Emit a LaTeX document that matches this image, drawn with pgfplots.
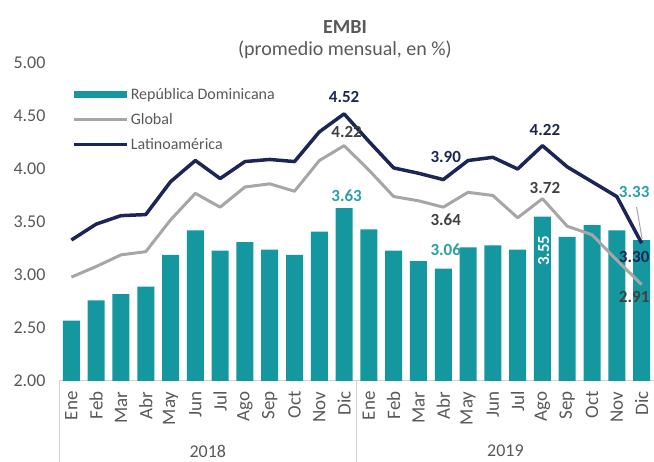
\documentclass[border=0pt]{standalone}
\usepackage{fontspec}
\setmainfont{Carlito}
\usepackage{pgfplots}
\pgfplotsset{compat=1.18}
\definecolor{rd}{HTML}{14979E}
\definecolor{rdlab}{HTML}{2A9FA5}
\definecolor{lat}{HTML}{1B2656}
\definecolor{glob}{HTML}{A6A6A6}
\definecolor{txt}{HTML}{595959}
\definecolor{glab}{HTML}{404040}
\begin{document}
\begin{tikzpicture}
\useasboundingbox (-59pt,-81pt) rectangle (595pt,381pt);
\begin{axis}[
  at={(0,0)}, anchor=south west,
  scale only axis, width=595pt, height=318pt,
  xmin=-0.5, xmax=23.5, ymin=2, ymax=5,
  ytick={2,2.5,3,3.5,4,4.5,5},
  yticklabel style={/pgf/number format/fixed,/pgf/number format/precision=2,/pgf/number format/fixed zerofill, font=\fontsize{18}{18}\selectfont, text=txt, xshift=-10pt},
  /pgf/number format/assume math mode=true,
  xtick={0,...,23},
  xticklabels={Ene,Feb,Mar,Abr,May,Jun,Jul,Ago,Sep,Oct,Nov,Dic,Ene,Feb,Mar,Abr,May,Jun,Jul,Ago,Sep,Oct,Nov,Dic},
  xticklabel style={rotate=90, anchor=east, font=\fontsize{19}{19}\selectfont, text=txt, xshift=-7pt},
  axis lines*=left,
  x axis line style={draw=gray!35, line width=1pt},
  y axis line style={draw=none},
  major tick length=0pt,
  clip=false,
  legend style={draw=none, fill=none, at={(0.022,0.928)}, anchor=north west, font=\fontsize{16}{16}\selectfont, text=txt, row sep=8.5pt, inner sep=0pt},
  legend cell align=left,
]
\addplot[ybar, bar width=17pt, fill=rd, draw=none,
  legend image code/.code={\fill[rd] (0pt,-3.5pt) rectangle (53pt,3.5pt);}]
  coordinates {(0,2.57) (1,2.76) (2,2.82) (3,2.89) (4,3.19) (5,3.42) (6,3.23) (7,3.31) (8,3.24) (9,3.19) (10,3.41) (11,3.63)
  (12,3.43) (13,3.23) (14,3.13) (15,3.06) (16,3.26) (17,3.28) (18,3.24) (19,3.55) (20,3.36) (21,3.47) (22,3.42) (23,3.33)};
\addlegendentry{República Dominicana}
\addplot[glob, line width=3pt, line join=round,
  legend image code/.code={\draw[glob,line width=3pt] (0pt,0pt) -- (53pt,0pt);}]
  coordinates {(0,2.98) (1,3.08) (2,3.19) (3,3.22) (4,3.52) (5,3.77) (6,3.64) (7,3.83) (8,3.86) (9,3.79) (10,4.08) (11,4.22)
  (12,3.99) (13,3.74) (14,3.70) (15,3.64) (16,3.78) (17,3.75) (18,3.54) (19,3.72) (20,3.46) (21,3.38) (22,3.14) (23,2.91)};
\addlegendentry{Global}
\addplot[lat, line width=3.5pt, line join=round,
  legend image code/.code={\draw[lat,line width=3.5pt] (0pt,0pt) -- (53pt,0pt);}]
  coordinates {(0,3.33) (1,3.48) (2,3.56) (3,3.57) (4,3.88) (5,4.08) (6,3.91) (7,4.07) (8,4.09) (9,4.07) (10,4.35) (11,4.52)
  (12,4.26) (13,4.01) (14,3.96) (15,3.90) (16,4.08) (17,4.11) (18,4.00) (19,4.22) (20,4.02) (21,3.88) (22,3.74) (23,3.30)};
\addlegendentry{Latinoamérica}
\draw[glob, line width=1pt] (axis cs:22.8,3.64) -- (axis cs:23.02,3.34);
\begin{scope}[every node/.style={font=\bfseries\fontsize{17}{17}\selectfont}]
\node[text=lat] at (axis cs:11,4.68) {4.52};
\node[text=glab] at (axis cs:11.1,4.35) {4.22};
\node[text=rdlab] at (axis cs:11.1,3.75) {3.63};
\node[text=lat] at (axis cs:15.1,4.11) {3.90};
\node[text=glab] at (axis cs:15.1,3.52) {3.64};
\node[text=rdlab] at (axis cs:15.1,3.24) {3.06};
\node[text=lat] at (axis cs:19.1,4.37) {4.22};
\node[text=glab] at (axis cs:19.1,3.82) {3.72};
\node[text=white, rotate=90] at (axis cs:19.05,3.23) {3.55};
\node[text=rdlab] at (axis cs:22.7,3.78) {3.33};
\node[text=lat] at (axis cs:22.7,3.17) {3.30};
\node[text=glab] at (axis cs:22.7,2.79) {2.91};
\end{scope}
\end{axis}
\draw[gray!35, line width=1pt] (0,0) -- (0,-81pt);
\draw[gray!35, line width=1pt] (297.6pt,0) -- (297.6pt,-81pt);
\node[font=\fontsize{18}{18}\selectfont, text=txt] at (148.8pt,-70pt) {2018};
\node[font=\fontsize{18}{18}\selectfont, text=txt] at (446.4pt,-70pt) {2019};
\node[font=\bfseries\fontsize{20}{20}\selectfont, text=txt] at (286pt,354pt) {EMBI};
\node[font=\fontsize{20}{20}\selectfont, text=txt] at (286pt,331pt) {(promedio mensual, en \%)};
\end{tikzpicture}
\end{document}
